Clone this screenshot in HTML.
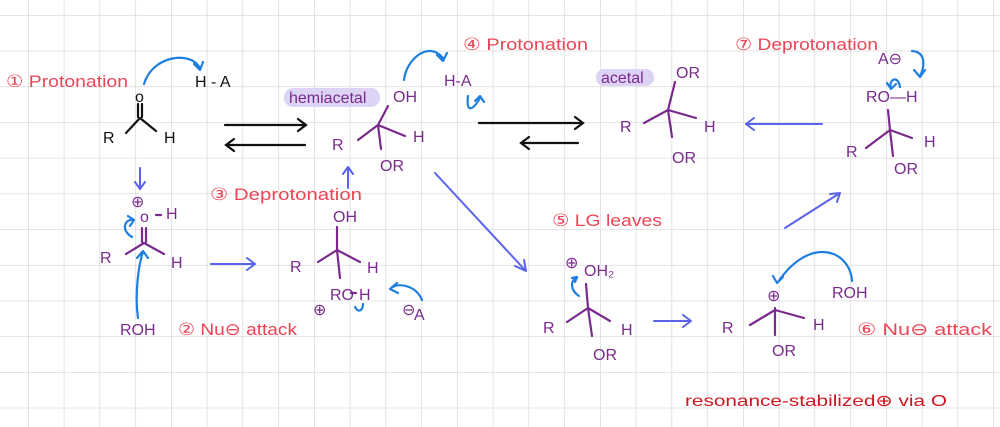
<!DOCTYPE html>
<html><head><meta charset="utf-8"><style>
html,body{margin:0;padding:0;background:#fff;}
svg{display:block;}
text{font-family:"Liberation Sans",sans-serif;}
.p{fill:#7a2a8c;font-size:16px;}
.k{fill:#111;font-size:16px;}
.r{fill:#ee4455;font-size:17px;}
.b{stroke:#7a2a8c;stroke-width:2.2;fill:none;stroke-linecap:round;}
.bk{stroke:#111;stroke-width:2.2;fill:none;stroke-linecap:round;}
.bl{stroke:#1f7fe0;stroke-width:2.2;fill:none;stroke-linecap:round;stroke-linejoin:round;}
.pb{stroke:#5a63ee;stroke-width:2;fill:none;stroke-linecap:round;stroke-linejoin:round;}
</style></head><body>
<svg width="1000" height="427" viewBox="0 0 1000 427" xmlns="http://www.w3.org/2000/svg">
<defs>
<pattern id="g" x="28" y="15" width="35.75" height="35.7" patternUnits="userSpaceOnUse">
<path d="M0 0V35.7M0 0H35.75" stroke="#d4d4d8" stroke-width="1.3" fill="none"/>
</pattern>
</defs>
<rect width="1000" height="427" fill="#fff"/>
<rect width="1000" height="427" fill="url(#g)"/>

<!-- step 1 -->
<text x="6" y="87" class="r" textLength="122" lengthAdjust="spacingAndGlyphs">① Protonation</text>
<text x="135" y="102" class="k" font-size="12">o</text>
<path class="bk" d="M138 104V117M142 104V117M140 118L126 133M140 118L156 131"/>
<text x="103" y="143" class="k">R</text>
<text x="164" y="143" class="k">H</text>
<path class="bl" d="M144 84C152 56 190 50 200 68M194 64L200 70L203 62"/>
<text x="195" y="87" class="k">H - A</text>
<path class="bk" d="M225 125H305M298 119L306 125L298 131M227 145H305M234 139L226 145L234 151"/>

<!-- hemiacetal -->
<rect x="284" y="88" width="96" height="19" rx="9" fill="#dcd3f5"/>
<text x="289" y="103" class="p" font-size="14">hemiacetal</text>
<text x="393" y="102" class="p">OH</text>
<path class="b" d="M388 106L378 125L358 140M378 125L405 136M378 125L381 149"/>
<text x="332" y="150" class="p">R</text>
<text x="413" y="142" class="p">H</text>
<text x="380" y="171" class="p">OR</text>
<path class="bl" d="M404 80C406 60 428 40 443 58M437 55L443 61L447 53"/>
<text x="463" y="50" class="r" textLength="125" lengthAdjust="spacingAndGlyphs">④ Protonation</text>
<text x="444" y="86" class="p">H-A</text>
<path class="bl" d="M468 96C466 112 472 112 480 98M475 101L480 96L484 102"/>
<path class="bk" d="M479 123H582M575 117L583 123L575 129M522 143H578M529 137L521 143L529 149"/>

<!-- acetal -->
<rect x="596" y="69" width="58" height="17" rx="8" fill="#dcd3f5"/>
<text x="601" y="83" class="p" font-size="14">acetal</text>
<text x="676" y="78" class="p">OR</text>
<path class="b" d="M675 82L668 110L644 123M668 110L696 118M668 110L672 137"/>
<text x="620" y="132" class="p" font-size="17">R</text>
<text x="704" y="132" class="p">H</text>
<text x="672" y="163" class="p">OR</text>
<path class="pb" d="M822 124H747M754 118L746 124L754 130"/>

<!-- step 7 -->
<text x="735" y="50" class="r" textLength="143" lengthAdjust="spacingAndGlyphs">⑦ Deprotonation</text>
<text x="878" y="64" class="p">A⊖</text>
<path class="bl" d="M912 51C926 52 925 66 920 76M914 70L920 77L925 70"/>
<path class="bl" d="M900 87C898 74 888 80 891 88M887 83L891 89L896 84"/>
<text x="866" y="102" class="p">RO—H</text>
<path class="b" d="M888 110L890 130L866 148M890 130L912 138M890 130L893 156"/>
<text x="846" y="157" class="p">R</text>
<text x="924" y="147" class="p">H</text>
<text x="894" y="174" class="p">OR</text>
<path class="pb" d="M785 228L840 193M830 194L840 193L837 202"/>

<!-- step 2 -->
<path class="pb" d="M140 168V188M135 182L140 189L145 182"/>
<text x="131" y="207" class="p" font-size="13">⊕</text>
<text x="140" y="222" class="p">o</text>
<path class="b" d="M156 215H161"/>
<text x="166" y="219" class="p">H</text>
<path class="bl" d="M132 237C120 230 125 218 134 220M128 216L134 220L130 226"/>
<path class="b" d="M142 228V242M146 228V242M144 243L126 254M144 243L164 254"/>
<text x="100" y="263" class="p">R</text>
<text x="171" y="268" class="p">H</text>
<path class="bl" d="M138 318C134 290 140 260 143 252M137 258L143 251L148 258"/>
<text x="120" y="335" class="p">ROH</text>
<text x="178" y="335" class="r" textLength="119" lengthAdjust="spacingAndGlyphs">② Nu⊖ attack</text>
<text x="210" y="200" class="r" font-size="15" textLength="152" lengthAdjust="spacingAndGlyphs">③ Deprotonation</text>
<path class="pb" d="M348 188V168M343 174L348 167L353 174"/>
<path class="pb" d="M211 264H254M247 258L255 264L247 270"/>

<text x="333" y="222" class="p">OH</text>
<path class="b" d="M337 227V250L318 262M337 250L360 262M337 250L340 278"/>
<text x="290" y="272" class="p">R</text>
<text x="367" y="273" class="p">H</text>
<text x="330" y="300" class="p">RO</text>
<path class="b" d="M351 293H356"/>
<text x="359" y="300" class="p">H</text>
<text x="313" y="315" class="p" font-size="13">⊕</text>
<path class="bl" d="M355 307C358 313 363 311 363 304"/>
<path class="bl" d="M422 300C416 286 400 282 391 288M397 283L390 289L398 293"/>
<text x="402" y="315" class="p" font-size="12">⊖</text>
<text x="414" y="320" class="p">A</text>

<!-- diagonal -->
<path class="pb" d="M435 173L525 270M515 266L526 271L524 260"/>

<!-- step 5 -->
<text x="552" y="226" class="r" textLength="110" lengthAdjust="spacingAndGlyphs">⑤ LG leaves</text>
<text x="565" y="268" class="p" font-size="13">⊕</text>
<text x="584" y="276" class="p" font-size="13">OH₂</text>
<path class="bl" d="M579 296C570 290 570 280 577 278M572 278L577 277L575 282"/>
<path class="b" d="M586 284L588 308L567 322M588 308L610 321M588 308L592 336"/>
<text x="543" y="333" class="p">R</text>
<text x="621" y="335" class="p">H</text>
<text x="593" y="360" class="p">OR</text>
<path class="pb" d="M654 321H690M683 315L691 321L683 327"/>

<!-- step 6 -->
<path class="bl" d="M852 281C850 250 810 235 778 282M773 276L777 283L783 277"/>
<text x="767" y="301" class="p" font-size="14">⊕</text>
<text x="832" y="298" class="p">ROH</text>
<path class="b" d="M775 308V335M775 310L750 325M775 310L804 318"/>
<text x="722" y="333" class="p">R</text>
<text x="813" y="330" class="p">H</text>
<text x="772" y="356" class="p">OR</text>
<text x="857" y="335" class="r" textLength="135" lengthAdjust="spacingAndGlyphs">⑥ Nu⊖ attack</text>

<text x="685" y="406" fill="#d0151e" font-size="16" textLength="262" lengthAdjust="spacingAndGlyphs">resonance-stabilized⊕ via O</text>
</svg>
</body></html>
